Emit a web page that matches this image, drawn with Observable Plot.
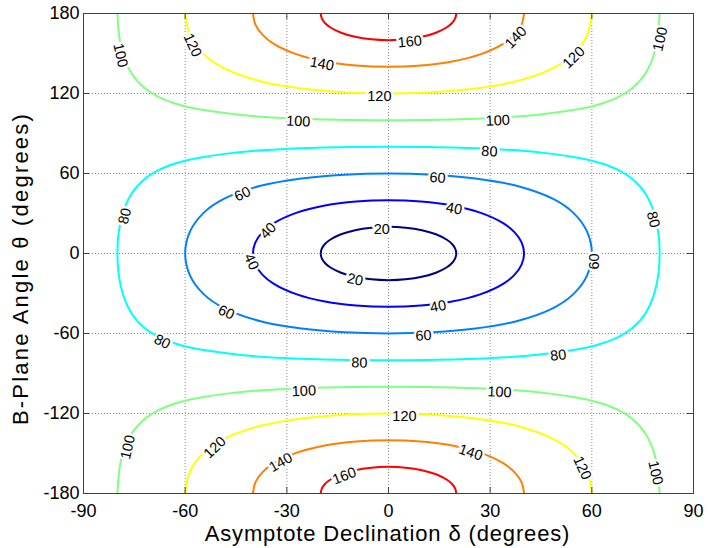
<!DOCTYPE html>
<html>
<head>
<meta charset="utf-8">
<script src="https://cdn.jsdelivr.net/npm/d3@7"></script>
<script src="https://cdn.jsdelivr.net/npm/@observablehq/plot@0.6"></script>
<style>
  html, body { margin: 0; padding: 0; background: #fff; }
  #chart svg { display: block; }
</style>
</head>
<body>
<div id="chart"></div>
<script>
// Contour levels of the inclination (degrees) and their jet colours
const levels = [20, 40, 60, 80, 100, 120, 140, 160];
const levelColors = ["#000080", "#0000ff", "#0080ff", "#00ffff", "#80ff80", "#ffff00", "#ff8000", "#ff0000"];

// Axis ticks
const xTicks = [-90, -60, -30, 0, 30, 60, 90];
const yTicks = [-180, -120, -60, 0, 60, 120, 180];

// Closed contours around the origin, as [declination δ, B-plane angle θ]
const loop20 = [[20,0],[19.68,3.62],[18.75,7.10],[17.23,10.31],[14.00,14.43],[9.85,17.50],[5.08,19.37],[0,20],
  [-5.08,19.37],[-9.85,17.50],[-14.00,14.43],[-17.23,10.31],[-18.75,7.10],[-19.68,3.62],[-20,0],
  [-19.68,-3.62],[-18.75,-7.10],[-17.23,-10.31],[-14.00,-14.43],[-9.85,-17.50],[-5.08,-19.37],[0,-20],
  [5.08,-19.37],[9.85,-17.50],[14.00,-14.43],[17.23,-10.31],[18.75,-7.10],[19.68,-3.62]];
const loop40 = [[40,0],[39.27,8.29],[37.16,16.01],[33.83,22.76],[27.03,30.68],[18.75,36.01],[9.58,39.03],[0,40],
  [-9.58,39.03],[-18.75,36.01],[-27.03,30.68],[-33.83,22.76],[-37.16,16.01],[-39.27,8.29],[-40,0],
  [-39.27,-8.29],[-37.16,-16.01],[-33.83,-22.76],[-27.03,-30.68],[-18.75,-36.01],[-9.58,-39.03],[0,-40],
  [9.58,-39.03],[18.75,-36.01],[27.03,-30.68],[33.83,-22.76],[37.16,-16.01],[39.27,-8.29]];
const loop60 = [[60,0],[58.53,16.74],[54.47,30.64],[48.59,40.89],[37.76,50.77],[25.66,56.31],[12.95,59.13],[0,60],
  [-12.95,59.13],[-25.66,56.31],[-37.76,50.77],[-48.59,40.89],[-54.47,30.64],[-58.53,16.74],[-60,0],
  [-58.53,-16.74],[-54.47,-30.64],[-48.59,-40.89],[-37.76,-50.77],[-25.66,-56.31],[-12.95,-59.13],[0,-60],
  [12.95,-59.13],[25.66,-56.31],[37.76,-50.77],[48.59,-40.89],[54.47,-30.64],[58.53,-16.74]];
const loop80 = [[80,0],[78.83,26.30],[75.90,44.56],[72.04,55.73],[67.73,62.72],[63.20,67.35],[58.53,70.57],[44.14,76.00],[29.50,78.49],[14.77,79.65],[0,80],
  [-14.77,79.65],[-29.50,78.49],[-44.14,76.00],[-58.53,70.57],[-63.20,67.35],[-67.73,62.72],[-72.04,55.73],[-75.90,44.56],[-78.83,26.30],[-80,0],
  [-78.83,-26.30],[-75.90,-44.56],[-72.04,-55.73],[-67.73,-62.72],[-63.20,-67.35],[-58.53,-70.57],[-44.14,-76.00],[-29.50,-78.49],[-14.77,-79.65],[0,-80],
  [14.77,-79.65],[29.50,-78.49],[44.14,-76.00],[58.53,-70.57],[63.20,-67.35],[67.73,-62.72],[72.04,-55.73],[75.90,-44.56],[78.83,-26.30]];

// Open contours reaching the top (θ = 180) and bottom (θ = -180) edges
const arc100Top = [[-80,180],[-78.83,153.70],[-75.90,135.44],[-72.04,124.27],[-67.73,117.28],[-63.20,112.65],[-58.53,109.43],[-44.14,104.00],[-29.50,101.51],[-14.77,100.35],[0,100],
  [14.77,100.35],[29.50,101.51],[44.14,104.00],[58.53,109.43],[63.20,112.65],[67.73,117.28],[72.04,124.27],[75.90,135.44],[78.83,153.70],[80,180]];
const arc100Bottom = [[-80,-180],[-78.83,-153.70],[-75.90,-135.44],[-72.04,-124.27],[-67.73,-117.28],[-63.20,-112.65],[-58.53,-109.43],[-44.14,-104.00],[-29.50,-101.51],[-14.77,-100.35],[0,-100],
  [14.77,-100.35],[29.50,-101.51],[44.14,-104.00],[58.53,-109.43],[63.20,-112.65],[67.73,-117.28],[72.04,-124.27],[75.90,-135.44],[78.83,-153.70],[80,-180]];
const arc120Top = [[-60,180],[-58.53,163.26],[-54.47,149.36],[-48.59,139.11],[-37.76,129.23],[-25.66,123.69],[-12.95,120.87],[0,120],
  [12.95,120.87],[25.66,123.69],[37.76,129.23],[48.59,139.11],[54.47,149.36],[58.53,163.26],[60,180]];
const arc120Bottom = [[-60,-180],[-58.53,-163.26],[-54.47,-149.36],[-48.59,-139.11],[-37.76,-129.23],[-25.66,-123.69],[-12.95,-120.87],[0,-120],
  [12.95,-120.87],[25.66,-123.69],[37.76,-129.23],[48.59,-139.11],[54.47,-149.36],[58.53,-163.26],[60,-180]];
const arc140Top = [[-40,180],[-39.27,171.71],[-37.16,163.99],[-33.83,157.24],[-27.03,149.32],[-18.75,143.99],[-9.58,140.97],[0,140],
  [9.58,140.97],[18.75,143.99],[27.03,149.32],[33.83,157.24],[37.16,163.99],[39.27,171.71],[40,180]];
const arc140Bottom = [[-40,-180],[-39.27,-171.71],[-37.16,-163.99],[-33.83,-157.24],[-27.03,-149.32],[-18.75,-143.99],[-9.58,-140.97],[0,-140],
  [9.58,-140.97],[18.75,-143.99],[27.03,-149.32],[33.83,-157.24],[37.16,-163.99],[39.27,-171.71],[40,-180]];
const arc160Top = [[-20,180],[-19.68,176.38],[-18.75,172.90],[-17.23,169.69],[-14.00,165.57],[-9.85,162.50],[-5.08,160.63],[0,160],
  [5.08,160.63],[9.85,162.50],[14.00,165.57],[17.23,169.69],[18.75,172.90],[19.68,176.38],[20,180]];
const arc160Bottom = [[-20,-180],[-19.68,-176.38],[-18.75,-172.90],[-17.23,-169.69],[-14.00,-165.57],[-9.85,-162.50],[-5.08,-160.63],[0,-160],
  [5.08,-160.63],[9.85,-162.50],[14.00,-165.57],[17.23,-169.69],[18.75,-172.90],[19.68,-176.38],[20,-180]];

// Inline contour labels: [level, δ, θ]
const labelSpots = [
  [100,-78.3,149.2],[120,-57.1,157.1],[140,-19.5,144.2],[160,6.2,160.9],[120,-2.7,120.0],
  [140,37.0,163.5],[120,54.1,148.5],[100,79.4,161.3],[100,-26.6,101.2],[100,32.2,101.8],
  [80,29.8,78.5],[60,14.5,58.9],[40,19.5,35.6],[20,-2.0,20.0],[60,-43.4,46.5],
  [40,-36.1,18.5],[80,-78.6,28.5],[40,-39.7,-5.3],[20,-9.7,-17.6],[60,-47.5,-42.3],
  [80,-66.4,-64.3],[40,14.5,-37.7],[60,10.3,-59.5],[80,-8.6,-79.9],[80,50.0,-74.3],
  [60,59.8,-6.0],[80,78.9,26.0],[100,-25.0,-101.1],[100,32.8,-101.9],[120,4.7,-120.2],
  [120,-51.8,-144.0],[140,-32.2,-154.9],[160,-13.3,-164.9],[140,24.5,-147.3],[120,57.9,-160.0],
  [100,79.6,-164.0],[100,-77.7,-144.8]
];

const xTitle = "Asymptote Declination δ (degrees)";
const yTitle = "B-Plane Angle θ (degrees)";

// ---- layout ----
const W = 713, H = 548;
const mL = 83, mR = 20, mT = 13, mB = 55;
const kx = (W - mL - mR) / 180;   // px per degree of δ
const ky = (H - mT - mB) / 360;   // px per degree of θ
const font = "'Liberation Sans', Arial, Helvetica, sans-serif";

const closedCurves = [
  {level: 20, pts: loop20}, {level: 40, pts: loop40},
  {level: 60, pts: loop60}, {level: 80, pts: loop80}
].map((c, i) => ({...c, id: "c" + i, closed: true}));
const openCurves = [
  {level: 100, pts: arc100Top}, {level: 100, pts: arc100Bottom},
  {level: 120, pts: arc120Top}, {level: 120, pts: arc120Bottom},
  {level: 140, pts: arc140Top}, {level: 140, pts: arc140Bottom},
  {level: 160, pts: arc160Top}, {level: 160, pts: arc160Bottom}
].map((c, i) => ({...c, id: "o" + i, closed: false}));

const toRows = (curves) => curves.flatMap(c => c.pts.map(([d, t]) => ({id: c.id, level: c.level, d, t})));
const closedRows = toRows(closedCurves);
const openRows = toRows(openCurves);

// Orientation of each label follows the local direction of its contour (kept upright)
const allCurves = closedCurves.concat(openCurves);
const labelRows = labelSpots.map(([level, d, t]) => {
  let best = null;
  for (const c of allCurves) {
    if (c.level !== level) continue;
    c.pts.forEach(([pd, pt], i) => {
      const dist = Math.hypot((pd - d) * kx, (pt - t) * ky);
      if (!best || dist < best.dist) best = {dist, c, i};
    });
  }
  const {c, i} = best;
  const n = c.pts.length;
  const a = c.closed ? c.pts[(i - 1 + n) % n] : c.pts[Math.max(0, i - 1)];
  const b = c.closed ? c.pts[(i + 1) % n] : c.pts[Math.min(n - 1, i + 1)];
  let angle = Math.atan2(-(b[1] - a[1]) * ky, (b[0] - a[0]) * kx) * 180 / Math.PI;
  if (angle >= 90) angle -= 180;
  if (angle < -90) angle += 180;
  return {level, d, t, angle};
});

const axisColor = "#404040";
const gridStyle = {stroke: "#8a8a8a", strokeOpacity: 1, strokeDasharray: "1,2"};
const fmt = (v) => String(v);

const chart = Plot.plot({
  width: W,
  height: H,
  marginLeft: mL,
  marginRight: mR,
  marginTop: mT,
  marginBottom: mB,
  style: {fontFamily: font, background: "#fff", color: "#000", overflow: "visible"},
  x: {domain: [-90, 90]},
  y: {domain: [-180, 180]},
  color: {domain: levels, range: levelColors},
  marks: [
    Plot.gridX(xTicks.slice(1, -1), gridStyle),
    Plot.gridY(yTicks.slice(1, -1), gridStyle),
    Plot.line(closedRows, {x: "d", y: "t", z: "id", stroke: "level", strokeWidth: 2, curve: "catmull-rom-closed", clip: true}),
    Plot.line(openRows, {x: "d", y: "t", z: "id", stroke: "level", strokeWidth: 2, curve: "catmull-rom", clip: true}),
    Plot.text(labelRows, {
      x: "d", y: "t", text: (r) => String(r.level), rotate: "angle",
      fontSize: 14.5, fill: "#000", stroke: "#fff", strokeWidth: 5, paintOrder: "stroke",
      lineHeight: 1.6
    }),
    Plot.frame({stroke: axisColor}),
    Plot.ruleX(xTicks, {stroke: axisColor, insetTop: H - mT - mB - 6}),
    Plot.ruleX(xTicks, {stroke: axisColor, insetBottom: H - mT - mB - 6}),
    Plot.ruleY(yTicks, {stroke: axisColor, insetRight: W - mL - mR - 6}),
    Plot.ruleY(yTicks, {stroke: axisColor, insetLeft: W - mL - mR - 6}),
    Plot.axisX(xTicks, {tickSize: 0, tickPadding: 11, fontSize: 18, tickFormat: fmt, label: null}),
    Plot.axisY(yTicks, {tickSize: 0, tickPadding: 4, fontSize: 18, tickFormat: fmt, label: null}),
    Plot.text([xTitle], {
      frameAnchor: "bottom", lineAnchor: "bottom", textAnchor: "middle", dy: 47, dx: -1, fontSize: 22
    }),
    Plot.text([yTitle], {
      frameAnchor: "left", lineAnchor: "bottom", textAnchor: "middle", rotate: -90, dx: -56, dy: 15, fontSize: 22
    })
  ]
});

// Wider glyph spacing on the two axis titles
chart.querySelectorAll("text").forEach((el) => {
  if (el.textContent === xTitle) el.setAttribute("letter-spacing", "0.85");
  if (el.textContent === yTitle) el.setAttribute("letter-spacing", "2.2");
});

document.getElementById("chart").append(chart);
</script>
</body>
</html>
